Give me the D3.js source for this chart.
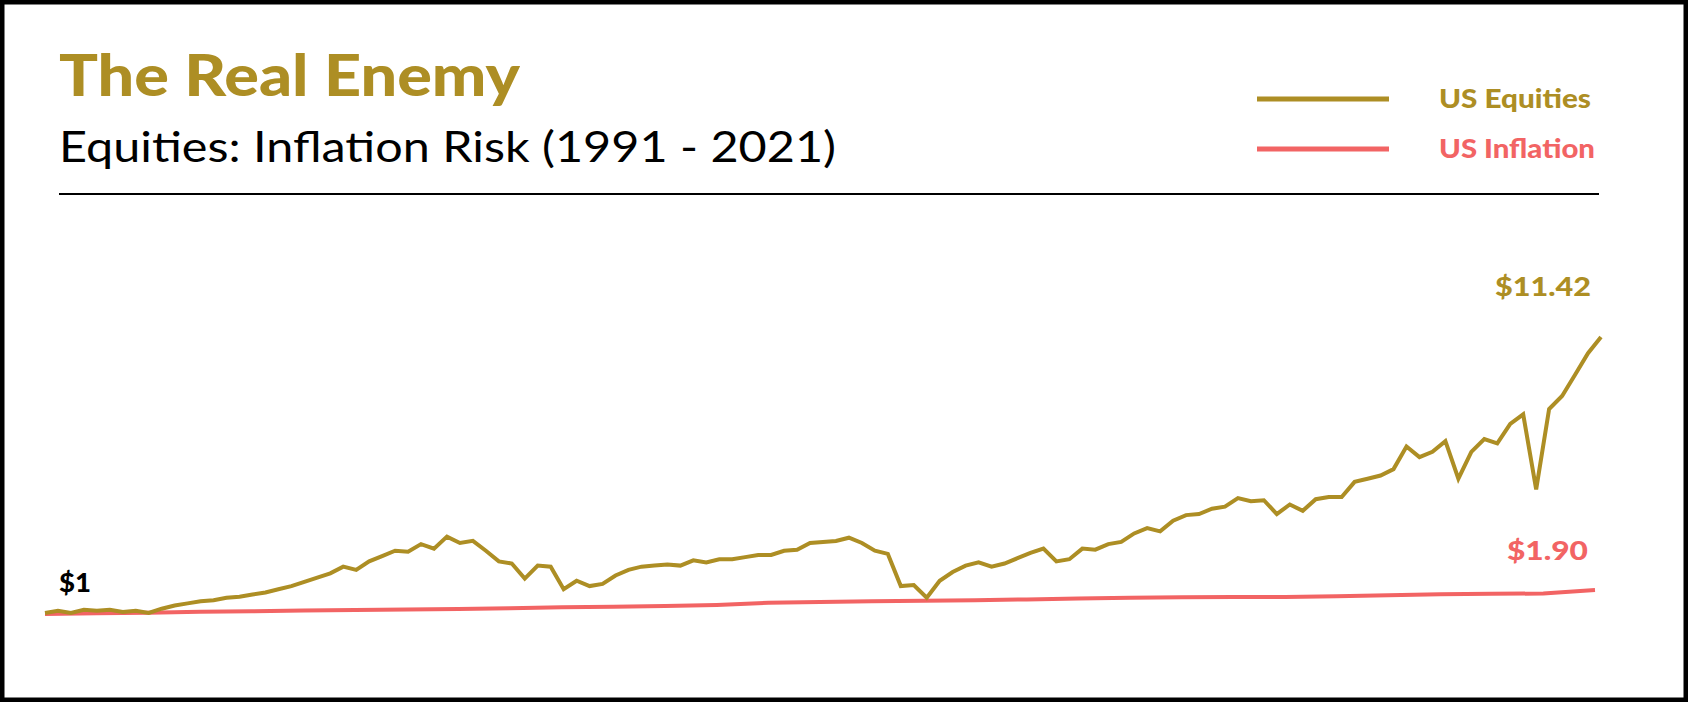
<!DOCTYPE html>
<html lang="en">
<head>
    <meta charset="UTF-8">
    <title>The Real Enemy</title>
    <script src="https://d3js.org/d3.v7.min.js"></script>
    <style>
        body { margin: 0; background: #fff; }
        text { font-family: Lato, "Open Sans", sans-serif; }
        path.line { fill: none; stroke-width: 4; stroke-linejoin: miter; }
    </style>
</head>
<body>
<script>
    // quarterly growth of $1, 1991 - 2021
    var equities = [1.04, 1.12, 1.04, 1.16, 1.12, 1.16, 1.08, 1.12, 1.04, 1.2,
        1.32, 1.40, 1.48, 1.52, 1.61, 1.65, 1.73, 1.81, 1.93, 2.05,
        2.21, 2.37, 2.53, 2.78, 2.66, 2.98, 3.18, 3.38, 3.34, 3.63,
        3.46, 3.91, 3.67, 3.75, 3.38, 2.98, 2.90, 2.33, 2.82, 2.78,
        1.93, 2.25, 2.05, 2.13, 2.45, 2.66, 2.78, 2.82, 2.86, 2.82,
        3.02, 2.94, 3.06, 3.06, 3.14, 3.22, 3.22, 3.38, 3.42, 3.67,
        3.71, 3.75, 3.87, 3.67, 3.38, 3.26, 2.05, 2.09, 1.61, 2.25,
        2.58, 2.82, 2.94, 2.78, 2.90, 3.10, 3.30, 3.46, 2.98, 3.06,
        3.46, 3.42, 3.63, 3.71, 4.03, 4.23, 4.11, 4.51, 4.72, 4.76,
        4.96, 5.04, 5.36, 5.24, 5.28, 4.76, 5.12, 4.88, 5.32, 5.40,
        5.40, 5.97, 6.09, 6.21, 6.45, 7.30, 6.90, 7.10, 7.50, 6.09,
        7.10, 7.58, 7.42, 8.15, 8.51, 5.69, 8.71, 9.20, 10.0, 10.81,
        11.42];
    // yearly CPI growth of $1
    var inflation = [1.00, 1.03, 1.05, 1.08, 1.10, 1.13, 1.15, 1.17, 1.19, 1.22,
        1.25, 1.27, 1.30, 1.34, 1.42, 1.45, 1.48, 1.50, 1.52, 1.55,
        1.58, 1.61, 1.63, 1.64, 1.64, 1.67, 1.71, 1.74, 1.76, 1.77,
        1.90];
    var seriesNames = ["US Equities", "US Inflation"];
    var colors = ["#ad8e24", "#f26464"];

    var W = 1688, H = 702;
    var svg = d3.select("body").append("svg").attr("width", W).attr("height", H);

    svg.append("rect").attr("x", 2).attr("y", 2).attr("width", W - 4).attr("height", H - 4)
        .attr("fill", "#fff").attr("stroke", "#000").attr("stroke-width", 5);

    svg.append("text").attr("x", 59).attr("y", 96).text("The Real Enemy")
        .attr("font-size", 58).attr("font-weight", 900).attr("fill", colors[0])
        .attr("textLength", 461).attr("lengthAdjust", "spacingAndGlyphs");
    svg.append("text").attr("x", 59).attr("y", 162).text("Equities: Inflation Risk (1991 - 2021)")
        .attr("font-size", 42).attr("font-weight", 400).attr("fill", "#000")
        .attr("textLength", 777).attr("lengthAdjust", "spacingAndGlyphs");
    svg.append("line").attr("x1", 59).attr("x2", 1599).attr("y1", 194).attr("y2", 194)
        .attr("stroke", "#000").attr("stroke-width", 2);

    // legend
    var legendW = [152, 156];
    seriesNames.forEach(function (name, i) {
        var y = 99 + i * 50;
        svg.append("line").attr("x1", 1257).attr("x2", 1389).attr("y1", y).attr("y2", y)
            .attr("stroke", colors[i]).attr("stroke-width", 5);
        svg.append("text").attr("x", 1439).attr("y", y + 9).text(name)
            .attr("font-size", 26).attr("font-weight", 900).attr("fill", colors[i])
            .attr("textLength", legendW[i]).attr("lengthAdjust", "spacingAndGlyphs");
    });

    var y = d3.scaleLinear().domain([1, 11.42]).range([614, 337]);
    var xe = d3.scaleLinear().domain([0, equities.length - 1]).range([45, 1601]);
    var xi = d3.scaleLinear().domain([0, inflation.length - 1]).range([45, 1595]);

    svg.append("path").datum(inflation).attr("class", "line").attr("stroke", colors[1])
        .attr("d", d3.line().x(function (d, i) { return xi(i); }).y(function (d) { return y(d); }));
    svg.append("path").datum(equities).attr("class", "line").attr("stroke", colors[0])
        .attr("d", d3.line().x(function (d, i) { return xe(i); }).y(function (d) { return y(d); }));

    // value labels
    svg.append("text").attr("x", 59).attr("y", y(1) - 22).text("$1")
        .attr("font-size", 27).attr("font-weight", 900).attr("fill", "#000")
        .attr("textLength", 32).attr("lengthAdjust", "spacingAndGlyphs");
    svg.append("text").attr("x", 1495).attr("y", y(11.42) - 41)
        .text("$" + d3.format(".2f")(equities[equities.length - 1]))
        .attr("font-size", 27).attr("font-weight", 900).attr("fill", colors[0])
        .attr("textLength", 96).attr("lengthAdjust", "spacingAndGlyphs");
    svg.append("text").attr("x", 1507).attr("y", y(1.90) - 30)
        .text("$" + d3.format(".2f")(inflation[inflation.length - 1]))
        .attr("font-size", 27).attr("font-weight", 900).attr("fill", colors[1])
        .attr("textLength", 81).attr("lengthAdjust", "spacingAndGlyphs");
</script>
</body>
</html>
